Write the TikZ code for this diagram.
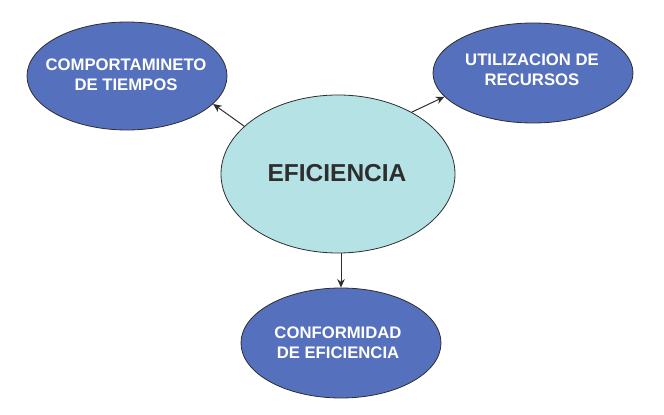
\documentclass[tikz,border=0pt]{standalone}
\usepackage{fontspec}
\setmainfont{Liberation Sans}
\usetikzlibrary{shapes.geometric,arrows.meta}
\definecolor{blueell}{HTML}{5570BC}
\definecolor{cyanell}{HTML}{B5E2E5}
\definecolor{edge}{HTML}{2E2E2E}
\tikzset{
  ell/.style={ellipse, draw=edge, line width=0.8pt, inner sep=0pt},
  blueell/.style={ell, fill=blueell},
  wtxt/.style={text=white, font=\bfseries\fontsize{16.7}{20}\selectfont, align=center, inner sep=0pt},
  conn/.style={draw=edge, line width=1pt, -{Stealth[length=8.5pt,width=7.5pt]}}
}
\begin{document}
\begin{tikzpicture}[x=1pt,y=1pt]
\useasboundingbox[fill=white] (0,0) rectangle (664,415);
\node[blueell, minimum width=200pt, minimum height=108pt] (l) at (127,339) {};
\node[blueell, minimum width=200pt, minimum height=100pt] (r) at (533,342) {};
\node[ell, fill=cyanell, minimum width=234pt, minimum height=158pt] (c) at (338,241) {};
\node[blueell, minimum width=200pt, minimum height=110pt] (b) at (341,72) {};
\node[wtxt] (lt) at (126,340) {COMPORTAMINETO\\DE TIEMPOS};
\node[wtxt] (rt) at (532,345) {UTILIZACION DE\\RECURSOS};
\node[wtxt] (bt) at (338,72) {CONFORMIDAD\\DE EFICIENCIA};
\node[text=edge, font=\bfseries\fontsize{24.5}{28}\selectfont, inner sep=0pt] (ct) at (337,242) {EFICIENCIA};
\draw[conn] (c.153) -- (l.342);
\draw[conn] (c.40) -- (r.195);
\draw[conn] (c.south -| b.north) -- (b.north);
\end{tikzpicture}
\end{document}
